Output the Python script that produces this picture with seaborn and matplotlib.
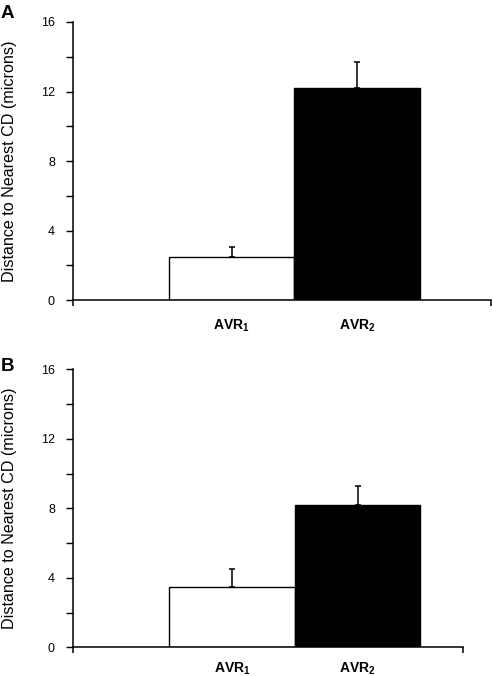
import matplotlib
matplotlib.use("Agg")
import matplotlib.pyplot as plt
import pandas as pd
import seaborn as sns

# data
groups = ["AVR1", "AVR2"]
tick_labels = [r"$\mathbf{AVR_1}$", r"$\mathbf{AVR_2}$"]
dist_a = [2.45, 12.2]
err_a = [0.6, 1.5]
dist_b = [3.45, 8.2]
err_b = [1.05, 1.1]
bar_colors = ["white", "black"]
panel_names = ["A", "B"]

sns.set_style("ticks")
plt.rcParams["font.family"] = ["Liberation Sans", "DejaVu Sans"]
plt.rcParams["mathtext.fontset"] = "custom"
plt.rcParams["mathtext.bf"] = "Liberation Sans:bold"
plt.rcParams["mathtext.rm"] = "Liberation Sans"
plt.rcParams["text.color"] = "black"
plt.rcParams["axes.labelcolor"] = "black"
plt.rcParams["xtick.color"] = "black"
plt.rcParams["ytick.color"] = "black"
plt.rcParams["axes.edgecolor"] = "black"

fig = plt.figure(figsize=(4.92, 6.76), dpi=100)
ax_a = fig.add_axes([73 / 492, 1 - 300 / 676, 418 / 492, 278 / 676])
ax_b = fig.add_axes([73 / 492, 1 - 647.3 / 676, 390 / 492, 278 / 676])


def draw_panel(ax, vals, errs, xmax, letter, letter_y, xpad):
    df = pd.DataFrame({"group": groups, "value": vals})
    sns.barplot(data=df, x="group", y="value", hue="group", palette=bar_colors,
                width=1.0, legend=False, errorbar=None, ax=ax,
                edgecolor=["black", "#444444"], linewidth=1.0)
    ax.errorbar(x=range(len(vals)), y=vals, yerr=[[0] * len(vals), errs],
                fmt="none", ecolor="black", elinewidth=1.1, capsize=2,
                capthick=1.1, zorder=5)
    ax.set_xlim(-1.267, xmax)
    ax.set_ylim(0, 16)
    ax.set_yticks([0, 4, 8, 12, 16])
    ax.set_yticks([2, 6, 10, 14], minor=True)
    ax.set_xticks([0, 1])
    ax.set_xticklabels(tick_labels, fontsize=10)
    ax.set_xticks([-1.267, xmax], minor=True)
    ax.tick_params(axis="x", which="major", length=0, pad=xpad)
    ax.tick_params(axis="x", which="minor", length=4, width=1.1, direction="out")
    ax.tick_params(axis="y", which="both", length=5, width=1.0, direction="out",
                   labelsize=9, pad=8)
    for s in ["top", "right"]:
        ax.spines[s].set_visible(False)
    for s in ["left", "bottom"]:
        ax.spines[s].set_linewidth(1.1)
    ax.set_xlabel("")
    ax.set_ylabel("Distance to Nearest CD (microns)", fontsize=11.6)
    w_px = ax.get_position().width * 492
    ax.yaxis.set_label_coords((17 - 73) / w_px, 0.5)
    fig.text(0.002, letter_y, letter, fontsize=13.5, fontweight="bold", va="top")


draw_panel(ax_a, dist_a, err_a, 2.07, panel_names[0], 1 - 5 / 676, 12.5)
draw_panel(ax_b, dist_b, err_b, 1.84, panel_names[1], 1 - 358 / 676, 9.5)

fig.savefig("out.png", dpi=100)
